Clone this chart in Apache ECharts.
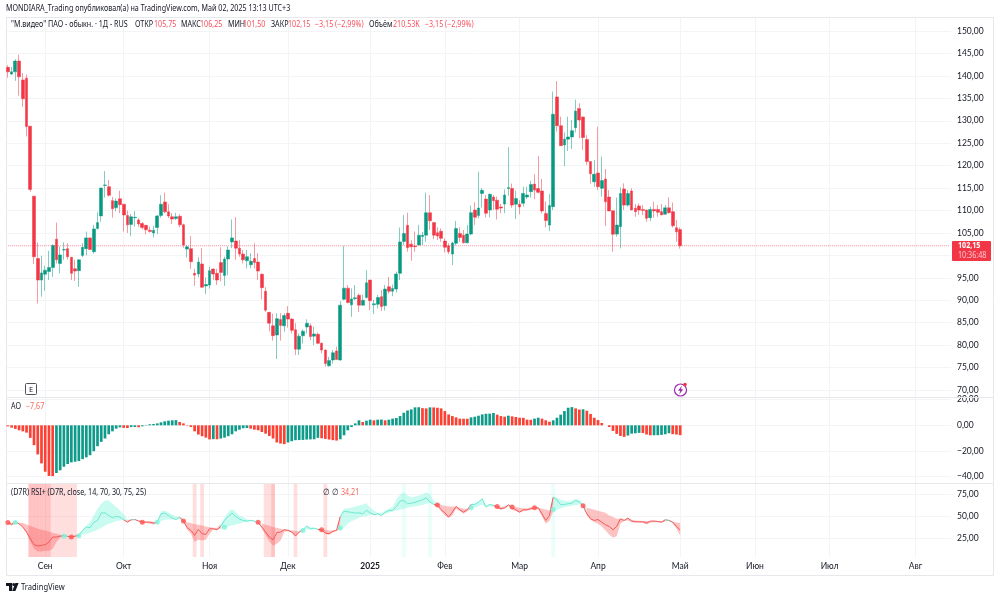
<!DOCTYPE html>
<html>
<head>
<meta charset="utf-8">
<style>html,body{margin:0;padding:0;background:#fff}#chart{width:1000px;height:598px}</style>
<script src="https://cdn.jsdelivr.net/npm/echarts@6/dist/echarts.min.js"></script>
</head>
<body>
<div id="chart"></div>
<script>
// Daily candles of "М.видео": [open, close, low, high]
const ohlc = [
[141.9,140.9,139.6,142.4],[140.4,140.9,140.2,142.0],[140.9,143.3,138.9,143.7],[143.3,139.8,135.6,144.7],[139.1,134.9,133.1,140.6],
[139.5,128.7,126.5,140.3],[128.8,114.7,114.2,128.8],[113.2,99.7,98.1,113.2],[99.3,94.5,89.3,102.9],[94.5,96.1,90.8,99.9],
[95.8,96.7,92.1,97.7],[96.4,97.3,94.5,101],[97.3,102.2,95.2,102.5],[103.6,99,98.2,107.3],[98.2,100.1,96,102],
[101.2,101.3,99,102.9],[101.5,99.7,99.1,102.7],[99.6,96,94.5,99.6],[97,96.5,94.3,99],[96.6,99,93,99.1],
[100,101.8,99.6,102.7],[101.5,103.9,100,105.3],[103.9,101.3,101.2,104],[100.8,105.9,100.4,106.8],[106,107.3,105.8,109.6],
[108.8,115,107.5,115],[115.6,115.7,112.9,118.8],[115.3,113.4,113.1,116.8],[112.2,110.4,108.4,113],[110.6,112.1,109.8,112.7],
[112.6,111.3,109.4,114.4],[111.4,109,105.3,111.4],[108.9,106.8,105,110],[106.9,108.6,104.3,109.2],[108.4,108.5,106.4,109.9],
[107.9,107,106.4,108.3],[107.1,106.2,105.8,107.4],[106.7,105.7,104.7,106.8],[105.6,105.3,105.1,106.4],[105,105.6,104,106.6],
[106.2,108.8,104.7,109],[108.9,111.4,108.4,113.4],[111.9,109.7,109.4,114],[109.7,108.8,108.3,111.4],[108.6,108.1,107,109.4],
[108.2,108.6,107.9,109.5],[108.7,106.8,106.25,109.2],[106.8,102.3,101.7,107.1],[101.4,101.9,99.5,102.3],[101.5,98.6,97,104.3],
[96,95.6,93.2,97],[95.85,98.5,95.1,99.6],[98.1,92.9,92.8,101.6],[93.2,93.5,91.4,95.1],[93.4,96.6,92.6,97.5],
[96.96,95.85,94.5,97.1],[96,94.5,93.4,97],[98.4,96.2,94.2,101.8],[95.5,99.2,93.2,99.7],[99.2,101.2,95.6,102],
[103,103.9,101.6,108],[103.2,101.6,99,108.5],[101.6,100.3,99.7,103.4],[100.3,99,98.2,101.2],[98.8,99.7,97.1,101.2],
[97.9,98.7,97.1,100.5],[99.3,98.4,97.1,102.7],[98.5,96.5,94.5,100.5],[95.8,92.8,90.2,96],[92,87.8,87.4,92.9],
[87.3,84.9,83.1,87.4],[84.3,82.1,81,87],[82.25,85.9,76.9,87.1],[85.7,84.4,81,87.1],[84.3,86.6,83,87.1],
[87.1,85.8,83.9,88.7],[85.8,83.3,82.6,86],[83.4,79.1,77.8,84.9],[79.1,82,77.8,82.6],[82.1,83.1,80.4,83.5],
[84.04,84.85,82.6,85.75],[84.3,81.9,81.1,84.85],[82,82.5,80,84.1],[82.4,80.4,80.2,82.8],[80.4,78.9,78.2,80.6],
[78.9,75.9,75.2,79.05],[75.4,76.6,75.2,77.4],[76.7,78.3,75.9,78.9],[78.7,76.8,76.8,79.65],[76.7,88.9,76.5,89.8],
[90.2,92.7,90,102.1],[92.7,89.5,89.3,93.4],[89,90.3,86.3,92.65],[90.35,90.55,90,93.4],[91.1,88.9,87.4,91.5],
[88.9,90,88.9,91.2],[90.6,93.9,90.4,96.7],[94.5,89.9,87.8,94.5],[89,89.2,86.9,90.05],[89.1,90.6,88.2,91.2],
[90.8,88.6,87.6,92.3],[88.8,92.5,87.7,93.4],[93,92,91.5,95.2],[92,92.6,90.9,93.5],[92.5,95.85,91.7,96.4],
[96,103,94.5,106.2],[103.1,104.9,102.3,109],[106.7,101.7,100.8,109.5],[102.5,101.9,98.8,103.4],[102.1,101.95,100.8,105.3],
[102.3,104.5,102.3,106.8],[104.2,104.5,102.3,105.2],[104.5,109.5,103.05,114],[109.5,107.7,105.65,113.45],[107.3,104.5,103.6,107.3],
[105.05,104.3,103.4,106.25],[105.35,103.8,103.05,106],[103.2,101.8,100.6,103.8],[102.15,100.8,100.3,102.7],[100.3,102.75,97.85,103.05],
[102.7,106,102.2,107.65],[104.9,104,103,106.25],[104.5,102.8,102.7,105.65],[102.8,104.75,102.7,106.8],[104.75,109.5,104.5,111.1],
[110.1,108.5,106.8,111.8],[108.9,110.55,108.25,118.65],[113.8,114.5,110.7,115],[112.55,109.4,108.5,113.45],[110.1,113.6,108.5,113.8],
[113,112.2,110.1,113.45],[112.3,110.3,108,113.1],[110.8,110.55,109.4,111.45],[111.45,113.45,109.4,114.7],[114.9,115.1,113.3,124.1],
[114.9,111.2,110.6,116],[111.4,112.7,108.1,114.4],[111.4,110.8,109.15,112.3],[111.6,113.8,110.85,115.3],[113,113.45,112.55,115.3],
[114.2,115.8,112.85,116.6],[115.9,114.55,112.5,118.1],[114.9,114.05,113.8,122.15],[114.35,109.9,109.35,117],[109.35,107.75,106.25,112],
[106.75,111.1,105.4,113.65],[110.85,131.45,110.1,136.5],[135.3,128.9,127.6,138.85],[128.9,124.45,124.45,130.9],[124.6,125.9,119.9,127.4],
[125.9,126.4,123.25,130.9],[126.4,127.8,123.7,130.2],[128.45,132.15,127.4,134.7],[132.75,130.15,126.1,133.9],[130.85,126.25,123.5,130.9],
[125.85,120.9,120.15,126.8],[120.9,118.2,116.05,121],[116.4,118.1,115.3,121.25],[118.35,115.3,114.55,128.7],[114.95,116.7,113.1,122],
[117,111.95,106.5,119.25],[113,109.9,109.9,114.55],[109.95,104.7,100.8,109.95],[104.75,106.75,104.15,112.9],[106.4,113.8,101.55,115.15],
[114.8,111.2,110.1,116.05],[111.2,113.8,110.85,114.55],[114.35,110.1,110.1,114.95],[110.5,109.75,108.6,111.45],[111,110.1,109,111.6],
[110.25,110,109,111.2],[110.1,108.25,107.5,110.1],[108.4,110.25,107.65,110.85],[110.25,109.9,108.4,111.95],[110.25,109.6,108.6,111.2],
[109.75,109,109,111.45],[109.15,110.6,109.15,111.2],[110.6,109.5,109.35,112.95],[109.75,106.6,106.2,111.8],[106.15,105.25,103.05,107.9],
[105.75,102.15,101.5,106.25]
];
const lastClose = 102.15;

// Awesome Oscillator, one value per candle
const aoValues = [
-0.8,-1.8,-2.8,-3.9,-4.7,-5.7,-9.8,-15.5,-22.7,-29.7,-36.2,-39.5,-39.6,-37.2,-35.1,-32.3,-30.2,-28.9,-28.4,-27.9,
-26.4,-25,-23.3,-20.2,-16.3,-12.9,-10.3,-7,-4.7,-2.6,-1.6,-2,-2.1,-1.4,-1.3,-1.5,-0.8,0.3,0.8,1,
1.5,2.3,3.1,3.6,3.9,4,2.6,1.5,-0.3,-1.3,-4.7,-7.2,-8.5,-9.6,-11,-10.8,-10.9,-10.3,-9.6,-8.5,
-7,-4.7,-3.4,-2.3,-2.1,-2.6,-3.4,-3.9,-5.2,-6.5,-8.3,-10.3,-13.4,-14.2,-14.7,-13.4,-12.4,-11.6,-11.5,-11.4,
-11.1,-11,-10.9,-9.8,-10.1,-10.6,-11.1,-11.6,-11.9,-10.9,-7.8,-3.9,-1.3,1.5,3.9,2.6,3.6,4.4,3.9,4.4,
4.5,3.9,4.4,5.2,5.7,7.2,9.8,11.6,12.4,14,14.1,13.4,13.2,14,13.95,13.7,13.2,11.1,8.5,7.2,
6.2,5.2,5.15,5.1,6.2,6.7,7.5,8.5,9,9.1,9.6,8.3,7.2,6.7,7.5,7,6.5,5.9,5.8,4.4,
4.3,5.2,5.9,5.2,3.9,2.8,3.9,5.9,8.3,11.1,13.7,14.2,13.2,12.3,12.5,11.4,8.8,5.9,4.1,1.8,
0,-1.3,-4.4,-6.7,-8.3,-9,-8,-6.5,-6.2,-5.9,-6,-7.2,-7.8,-7.75,-7.7,-7.5,-7,-6.2,-6.9,-7.2,
-7.67
];

// RSI+ study: the RSI itself and the two edges of its band
const rsiValues = [
43.2,40.6,43.2,41.3,37.5,31.9,24.3,17.5,16,16.7,17.5,20.5,26.2,26.2,27.3,27.7,27,26.2,27.3,28.1,
33.8,37.5,36.8,43.2,45.1,53.5,53.8,50.8,48.2,49.7,48.9,45.9,43.2,45.9,46.2,44.4,43.2,43.2,43.2,42.1,
43.2,52.7,53.5,50.8,47.8,46.2,48.9,44.4,36.8,33.8,28.1,34.9,30,29.2,35.6,35.6,34.5,38.3,45.1,49.7,
53.5,49.7,46.6,45.1,44.4,45.1,44.4,42.8,37.5,31.9,26.2,23.1,31.1,31.9,34.5,33.8,31.9,27.3,31.9,34.5,
38.7,35.6,36.4,34.9,34.5,30.7,30,32.6,33.8,49.7,55.7,55,54.2,53.5,53.8,52.7,56.5,53.8,51.6,52.7,
50.8,54.2,56.5,56.5,61,67.1,67.8,64.1,64.8,65.6,67.1,68.6,70.9,66,63.3,62.2,57.3,53.8,48.9,54.6,
61,57.3,54.6,57.3,63.3,63.3,66,69.7,60.3,63.3,62.2,60.3,58.4,59.5,62.9,59.5,57.3,54.6,57.3,57.3,
58.4,59.5,59.5,52.7,45.1,50.8,71.6,68.6,62.9,63.3,64.1,64.8,67.8,66,61.8,52.7,47,45.1,46.2,43.2,
40.2,38.3,34.5,38.3,47,45.1,47.8,44.4,43.6,43.6,43.6,42.1,44.4,44.4,44,43.2,45.9,45.1,43.2,38.3,
34.21
];
const rsiBandHigh = [
43.2,42.5,43.2,42.5,42.1,40.6,38.7,37.5,35.6,34.5,33.8,32.6,31.1,30,28.8,28.1,27.3,27.3,27.3,28.1,
34.5,39.4,43.2,50.8,58.4,64.1,67.8,67.8,64.1,60.3,56.5,52.7,45.9,45.9,46.2,45.1,44.4,44,44,43.6,
43.2,55.7,56.5,54.2,52,49.7,48.9,45.9,43.2,42.1,40.9,40.2,39.4,38.3,37.5,36.8,36.4,41.3,48.2,54.6,
58.4,54.6,50.8,48.9,46.2,45.9,44.4,43.2,41.7,40.2,39.1,37.5,36.8,35.6,34.9,34.5,33.8,33,32.6,34.5,
39.4,37.5,36.4,35.6,34.9,34.5,33.8,33.8,34.5,50.8,58.4,59.1,59.5,61,62.2,63.3,64.8,59.5,56.5,53.8,
53.5,56.5,58.4,60.3,68.6,74.7,77.3,73.5,71.6,72.4,73.5,74.7,77.3,74.7,67.8,64.8,62.6,61.8,61,61,
61,59.5,58.7,58,64.1,64.8,67.1,69.7,62.2,64.1,62.9,61.4,60.6,61,63.3,61,60.3,59.5,59.1,58.7,
60.3,60.3,59.5,58.4,57.6,56.5,72.4,71.6,68.6,67.8,67.1,67.8,69.7,68.6,64.1,59.5,58.4,57.3,56.1,55,
53.8,50.8,48.9,47,47,45.9,47.8,45.9,45.1,44.7,44.4,44.4,44.4,44.7,44.4,44.4,45.9,45.5,43.6,42.8,
42.1
];
const rsiBandLow = [
41.3,39.1,43.2,41.3,37.5,30.7,20.5,12.9,9.9,9.9,10.6,10.6,12.9,20.5,25.4,27.3,26.2,25.4,26.2,28.1,
29.2,29.6,31.1,32.6,34.5,36.8,39.4,41.3,42.5,44.4,45.1,45.9,43.2,45.1,45.5,44.4,43.2,42.1,41.3,40.2,
43.2,44.4,45.9,46.2,46.2,46.2,46.2,44.4,34.5,30,20.5,23.1,22.4,23.1,30,34.9,34.5,35.6,36.8,38.3,
39.4,40.6,41.3,42.8,43.6,44.4,43.6,42.8,35.6,28.1,21.3,16.3,18.6,22.4,31.9,33,31.1,27.3,31.5,33.8,
34.5,34.9,34.9,34.5,33.8,29.6,28.8,31.5,33.8,34.5,36.4,41.3,44.4,45.9,48.2,49.7,50,51.6,51.6,52,
50.8,52.7,54.2,55.3,56.5,57.3,58.4,59.5,60.3,61,61.8,62.6,64.1,65.6,63.3,62.2,55.7,50.8,48.2,50.8,
58.4,55.7,52.7,55.7,58.4,59.5,61,63.3,60.3,61,61,58.4,57.3,58.4,61,57.3,55.7,53.8,55.7,56.5,
57.3,59.5,57.3,49.7,41.3,44.4,55.7,57.3,58.7,60.3,61,61.8,62.6,63.3,61.8,50.8,45.9,43.2,41.3,38.3,
33.8,29.2,25.4,27,41.3,44.4,45.1,43.2,42.8,42.5,42.5,40.6,42.5,43.2,43.2,42.5,44,44.4,41.3,35.6,
28.1
];
// Candle ranges where the study reads bullish
const rsiBullRuns = [[2,2],[15,16],[19,31],[33,34],[40,46],[57,67],[79,83],[89,114],[124,130],[134,134],[146,154],[176,177]];
const rsiBearDots = [[0,42.8],[17,26.2],[36,43.2],[47,44.4],[67,43.2],[84,34.5],[115,62.6],[131,61],[135,60.3],[141,59.5],[154,61.8]];
const rsiBullDots = [[2,42.8],[15,27.3],[19,27.7],[40,43.2],[58,37.5],[79,33.8],[89,36.4],[124,59.5],[146,57.6]];
// Candles whose background is tinted
const alertDeep = [6,7,8,9,10,11,71];
const alertSoft = [12,13,14,15,16,17,18,50,52,69,70,77,85];
const alertBull = [106,113,146];

const barSlots = 253;
const monthTicks = [10,31,54,75,97,117,137,158,180,200,220,243];
const monthNames = ['Сен','Окт','Ноя','Дек','2025','Фев','Мар','Апр','Май','Июн','Июл','Авг'];
const priceTicks = [70,75,80,85,90,95,100,105,110,115,120,125,130,135,140,145,150];
const aoTicks = [-40,-20,0,20];
const rsiTicks = [25,50,75];

const FONT = 'Lato,"Noto Sans",sans-serif';
const CAPTION_FONT = '"Noto Sans",sans-serif';
const SIZE = 8.5;
const INK = '#131722';
const UP = '#089981', DOWN = '#F23645';
const AO_UP = '#0f9b8a', AO_DOWN = '#fb4034';
const GRID = '#f3f4f6', FRAME = '#e6e8ec';
const MINT = '#6fe9cf', ROSE = '#f45a5a';

const categories = Array.from({length: barSlots}, (_, i) => {
  const k = monthTicks.indexOf(i);
  return k < 0 ? '' : monthNames[k];
});
const isMonth = i => monthTicks.includes(i);
const commaNum = v => v.toFixed(2).replace('.', ',').replace('-', '−');
const inBull = i => rsiBullRuns.some(r => i >= r[0] && i <= r[1]);

// The RSI line changes colour with the bullish runs
const rsiBull = rsiValues.map((v, i) => (inBull(i) ? v : null));
const rsiBear = rsiValues.map((v, i) => (!inBull(i) || !inBull(i + 1) || !inBull(i - 1) ? v : null));

// Contiguous runs of one band colour
const bandRuns = [];
(function () {
  let start = 0;
  for (let i = 1; i <= rsiValues.length; i++) {
    if (i === rsiValues.length || inBull(i) !== inBull(i - 1)) {
      bandRuns.push([start, Math.min(i, rsiValues.length - 1), inBull(start) ? 1 : 0]);
      start = i;
    }
  }
})();

const alertBars = rsiValues.map((_, i) => {
  let color = null;
  if (alertDeep.includes(i)) color = 'rgba(255,90,90,0.36)';
  else if (alertSoft.includes(i)) color = 'rgba(255,90,90,0.2)';
  else if (alertBull.includes(i)) color = 'rgba(120,245,215,0.15)';
  return color ? {value: 90, itemStyle: {color}} : null;
});

const aoData = aoValues.map((v, i) => ({
  value: v,
  itemStyle: {color: i > 0 && v > aoValues[i - 1] ? AO_UP : AO_DOWN}
}));

function xAxisFor(gridIndex, showLabels) {
  return {
    type: 'category', gridIndex, data: categories, boundaryGap: true,
    axisLine: {show: false},
    axisTick: {show: false},
    splitLine: {show: true, alignWithLabel: true, interval: i => isMonth(i), lineStyle: {color: GRID, width: 1}},
    axisLabel: showLabels ? {
      show: true, interval: i => isMonth(i), margin: 5, fontFamily: FONT, fontSize: SIZE, color: INK,
      hideOverlap: false,
      formatter: v => (v === '2025' ? '{y|2025}' : v),
      rich: {y: {fontWeight: 'bold', fontFamily: FONT, fontSize: SIZE, color: INK}}
    } : {show: false}
  };
}
function yAxisFor(gridIndex, min, max, ticks) {
  return {
    type: 'value', gridIndex, position: 'right', min, max, scale: true,
    axisLine: {show: false},
    axisTick: {show: false, customValues: ticks},
    splitLine: {show: true, lineStyle: {color: GRID, width: 1}},
    axisLabel: {customValues: ticks, margin: 6, fontFamily: FONT, fontSize: SIZE, color: INK, formatter: commaNum, showMinLabel: true, showMaxLabel: true}
  };
}

// Header, pane captions and chart furniture placed over the panes; captions are set condensed
function text(str, x, y, fill, size, weight, squeeze) {
  return {type: 'text', silent: true, z: 20, x, y, scaleX: squeeze || 0.84,
    style: {text: str, fill: fill || INK, font: (weight ? weight + ' ' : '') + (size || SIZE) + 'px ' + CAPTION_FONT, verticalAlign: 'middle'}};
}
const DARK_PINK = '#f7525f';
const furniture = [
  {type: 'rect', silent: true, z: 1, shape: {x: 6.5, y: 17.5, width: 987, height: 558}, style: {fill: 'none', stroke: FRAME, lineWidth: 1}},
  {type: 'line', silent: true, z: 1, shape: {x1: 6, y1: 397.5, x2: 993, y2: 397.5}, style: {stroke: FRAME, lineWidth: 1}},
  {type: 'line', silent: true, z: 1, shape: {x1: 6, y1: 483.5, x2: 993, y2: 483.5}, style: {stroke: FRAME, lineWidth: 1}},
  text('MONDIARA_Trading опубликовал(а) на TradingView.com, Май 02, 2025 13:13 UTC+3', 6, 9, INK),
  text('"М.видео" ПАО - обыкн. · 1Д - RUS', 11, 25, INK),
  text('ОТКР', 135, 25, INK), text('105,75', 154, 25, DARK_PINK),
  text('МАКС', 181, 25, INK), text('106,25', 200, 25, DARK_PINK),
  text('МИН', 228, 25, INK), text('101,50', 243, 25, DARK_PINK),
  text('ЗАКР', 271, 25, INK), text('102,15', 288, 25, DARK_PINK),
  text('−3,15 (−2,99%)', 315, 25, DARK_PINK),
  text('Объём', 369, 25, INK), text('210,53K', 393, 25, DARK_PINK),
  text('−3,15 (−2,99%)', 425, 25, DARK_PINK),
  text('AO', 11, 407, INK), text('−7,67', 26, 407, '#f7685f'),
  text('(D7R) RSI+ (D7R, close, 14, 70, 30, 75, 25)', 11, 493, INK),
  text('∅', 323, 493, INK), text('∅', 332, 493, INK), text('34,21', 341, 493, '#f7685f'),
  // Countdown tag on the price scale
  {type: 'rect', silent: true, z: 20, shape: {x: 952, y: 241, width: 39, height: 20, r: 1}, style: {fill: DOWN}},
  text('102,15', 958, 246, '#ffffff', SIZE, 'bold'),
  text('10:36:48', 958, 255.5, '#ffc9cf', SIZE),
  // Exchange badge
  {type: 'rect', silent: true, z: 20, shape: {x: 25.5, y: 383.5, width: 11, height: 11, r: 1}, style: {fill: '#fff', stroke: '#50535e', lineWidth: 1}},
  {type: 'text', silent: true, z: 21, style: {text: 'E', x: 31, y: 389.5, fill: INK, font: '7.5px ' + CAPTION_FONT, align: 'center', verticalAlign: 'middle'}},
  // Earnings-style lightning marker
  {type: 'circle', silent: true, z: 20, shape: {cx: 680.5, cy: 390, r: 6}, style: {fill: '#fff', stroke: '#9c27b0', lineWidth: 1.2}},
  {type: 'polygon', silent: true, z: 21, shape: {points: [[682,385.5],[678,390.8],[680.3,390.8],[679.2,394.5],[683.2,389.2],[680.9,389.2]]}, style: {fill: '#9c27b0'}},
  {type: 'circle', silent: true, z: 22, shape: {cx: 685, cy: 384.5, r: 1.8}, style: {fill: '#f23645'}},
  // TradingView mark and wordmark
  {type: 'polygon', silent: true, z: 20, shape: {points: [[6,583],[12.2,583],[12.2,591],[9,591],[9,586],[6,586]]}, style: {fill: '#131722'}},
  {type: 'circle', silent: true, z: 20, shape: {cx: 13.8, cy: 584.6, r: 1.5}, style: {fill: '#131722'}},
  {type: 'polygon', silent: true, z: 20, shape: {points: [[15.4,583],[18.6,583],[15.4,591],[12.2,591]]}, style: {fill: '#131722'}},
  text('TradingView', 21, 587, '#131722', 9.5, null, 0.8)
];

const option = {
  animation: false,
  backgroundColor: '#ffffff',
  textStyle: {fontFamily: FONT},
  grid: [
    {left: 6, right: 49, top: 18, height: 379},
    {left: 6, right: 49, top: 398, height: 85},
    {left: 6, right: 49, top: 484, height: 73}
  ],
  xAxis: [xAxisFor(0, false), xAxisFor(1, false), xAxisFor(2, true)],
  yAxis: [
    yAxisFor(0, 68.44, 152.9, priceTicks),
    yAxisFor(1, -45, 21.3, aoTicks),
    yAxisFor(2, 3.5, 86.6, rsiTicks)
  ],
  graphic: furniture,
  series: [
    {
      type: 'line', name: 'Last price', xAxisIndex: 0, yAxisIndex: 0, z: 3, silent: true, showSymbol: false,
      data: categories.map(() => lastClose),
      lineStyle: {color: '#f23645', opacity: 0.55, type: 'dotted', width: 1}
    },
    {
      type: 'candlestick', name: 'М.видео', xAxisIndex: 0, yAxisIndex: 0, data: ohlc, barWidth: 3.2, z: 2,
      itemStyle: {color: UP, color0: DOWN, borderColor: 'rgba(8,153,129,0.5)', borderColor0: 'rgba(242,54,69,0.5)', borderWidth: 1}
    },
    {type: 'bar', name: 'AO', xAxisIndex: 1, yAxisIndex: 1, data: aoData, barWidth: 2.7},
    {type: 'bar', name: 'RSI tint', xAxisIndex: 2, yAxisIndex: 2, data: alertBars, barWidth: '100%', z: 1, silent: true},
    {
      type: 'custom', name: 'RSI band', xAxisIndex: 2, yAxisIndex: 2, z: 2, silent: true,
      data: bandRuns.map((r, i) => [i]),
      encode: {x: 0},
      clip: true,
      renderItem(params, api) {
        const run = bandRuns[params.dataIndex];
        const pts = [];
        for (let i = run[0]; i <= run[1]; i++) pts.push(api.coord([i, rsiBandHigh[i]]));
        for (let i = run[1]; i >= run[0]; i--) pts.push(api.coord([i, rsiBandLow[i]]));
        return {type: 'polygon', shape: {points: pts},
          style: {fill: run[2] ? 'rgba(122,245,220,0.4)' : 'rgba(250,90,90,0.36)', stroke: 'none'}};
      }
    },
    {type: 'line', name: 'RSI bear', xAxisIndex: 2, yAxisIndex: 2, data: rsiBear, showSymbol: false, z: 3, lineStyle: {color: ROSE, width: 1}},
    {type: 'line', name: 'RSI bull', xAxisIndex: 2, yAxisIndex: 2, data: rsiBull, showSymbol: false, z: 3, lineStyle: {color: MINT, width: 1}},
    {type: 'scatter', name: 'Bear cross', xAxisIndex: 2, yAxisIndex: 2, data: rsiBearDots, symbolSize: 5, z: 4, itemStyle: {color: '#ff5350'}},
    {type: 'scatter', name: 'Bull cross', xAxisIndex: 2, yAxisIndex: 2, data: rsiBullDots, symbolSize: 5, z: 4, itemStyle: {color: '#7af5dc'}}
  ]
};
echarts.init(document.getElementById('chart'), null, {renderer: 'canvas'}).setOption(option);
</script>
</body>
</html>
